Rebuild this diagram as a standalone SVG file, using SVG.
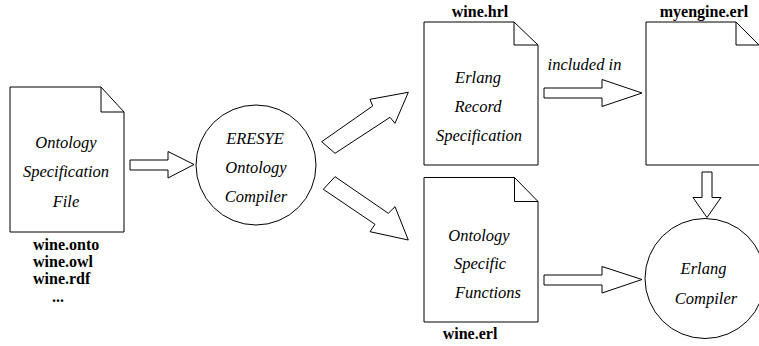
<svg xmlns="http://www.w3.org/2000/svg" width="759" height="346" viewBox="0 0 759 346">
  <style>
    .shape { fill: #ffffff; stroke: #000000; stroke-width: 1; stroke-linejoin: miter; }
    .fold { fill: none; stroke: #000000; stroke-width: 1; }
    .arrow { fill: #ffffff; stroke: #000000; stroke-width: 1; stroke-linejoin: miter; }
    .it { font-style: italic; font-size: 16.5px; text-anchor: middle; fill: #000000; }
    .fn { font-weight: bold; font-size: 16px; fill: #000000; }
    .mid { text-anchor: middle; }
  </style>
  <rect width="759" height="346" fill="#ffffff"/>

  <g font-family="Liberation Serif, Times New Roman, Times, Tinos, Noto Serif, DejaVu Serif, serif">
  <!-- source ontology file -->
  <g id="ontology-file">
    <path class="shape" d="M10,87 H101 L124,112 V232 H10 Z"/>
    <path class="fold" d="M101,87 V112 H124"/>
    <text class="it" x="66" y="148">Ontology</text>
    <text class="it" x="66" y="177">Specification</text>
    <text class="it" x="66" y="206.5">File</text>
    <text class="fn" x="33" y="250">wine.onto</text>
    <text class="fn" x="33" y="267">wine.owl</text>
    <text class="fn" x="33" y="284">wine.rdf</text>
    <text class="fn" x="52" y="302">...</text>
  </g>

  <!-- ontology compiler -->
  <g id="eresye-compiler">
    <circle class="shape" cx="256" cy="165" r="60"/>
    <text class="it" x="255" y="143.5">ERESYE</text>
    <text class="it" x="256" y="172.5">Ontology</text>
    <text class="it" x="256" y="202">Compiler</text>
  </g>

  <!-- generated record header -->
  <g id="wine-hrl">
    <path class="shape" d="M424,22 H514 L538,45 V165 H424 Z"/>
    <path class="fold" d="M514,22 V45 H538"/>
    <text class="fn mid" x="480" y="16.5">wine.hrl</text>
    <text class="it" x="478" y="83">Erlang</text>
    <text class="it" x="478" y="112">Record</text>
    <text class="it" x="479" y="141">Specification</text>
  </g>

  <!-- user engine module -->
  <g id="myengine-erl">
    <path class="shape" d="M646,22 H736 L760,46 V165 H646 Z"/>
    <path class="fold" d="M736,22 V45 H760"/>
    <text class="fn mid" x="704" y="16.5">myengine.erl</text>
  </g>

  <!-- generated functions module -->
  <g id="wine-erl">
    <path class="shape" d="M424,177.5 H514.5 L538,201.5 V322 H424 Z"/>
    <path class="fold" d="M514.5,177.5 V201.5 H538"/>
    <text class="it" x="479" y="240.5">Ontology</text>
    <text class="it" x="480" y="268.5">Specific</text>
    <text class="it" x="488" y="298">Functions</text>
    <text class="fn mid" x="470" y="338.5">wine.erl</text>
  </g>

  <!-- Erlang compiler -->
  <g id="erlang-compiler">
    <circle class="shape" cx="705" cy="278.5" r="60"/>
    <text class="it" x="703.5" y="274">Erlang</text>
    <text class="it" x="706" y="304">Compiler</text>
  </g>

  <!-- block arrows -->
  <g id="connectors">
    <polygon class="arrow" points="130,160 168,160 168,151.5 194,164.5 168,178 168,170 130,170"/>
    <polygon class="arrow" points="321.7,141.7 372.7,106 370,99.3 408.3,92.3 395,123.3 390,117.3 335,153.3"/>
    <polygon class="arrow" points="335,176.7 388.3,213.3 395,206.7 408.3,240 370,231.7 375,224.3 323.3,189.3"/>
    <polygon class="arrow" points="544,88 602,88 602,79.5 642,93 602,106.5 602,98 544,98"/>
    <text class="it" x="584.5" y="70">included in</text>
    <polygon class="arrow" points="544,275 602,275 602,266.5 642,279.5 602,293 602,285 544,285"/>
    <polygon class="arrow" points="702,172 712,172 712,197.5 721,197.5 707,217.5 693,197.5 702,197.5"/>
  </g>
  </g>
</svg>
